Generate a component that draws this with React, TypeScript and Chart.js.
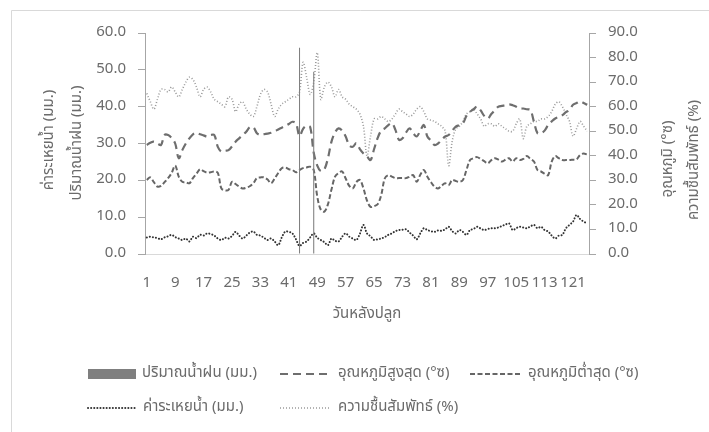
import React, { useEffect, useRef } from "react";
import { Chart, registerables } from "chart.js";

Chart.register(...registerables);

// Days after planting (1..125)
const days: string[] = Array.from({ length: 125 }, (_, i) => String(i + 1));

// Rainfall (mm)
const rainfall: number[] = [
  0, 0, 0, 0, 0, 0, 0, 0, 0, 0,
  0, 0, 0, 0, 0, 0, 0, 0, 0, 0,
  0, 0, 0, 0, 0, 0, 0, 0, 0, 0,
  0, 0, 0, 0, 0, 0, 0, 0, 0, 0,
  0, 0, 0, 56.0, 0, 0, 0, 49.5, 0, 0,
  0, 0, 0, 0, 0, 0, 0, 0, 0, 0,
  0, 0, 0, 0, 0, 0, 0, 0, 0, 0,
  0, 0, 0, 0, 0, 0, 0, 0, 0, 0,
  0, 0, 0, 0, 0, 0, 0, 0, 0, 0,
  0, 0, 0, 0, 0, 0, 0, 0, 0, 0,
  0, 0, 0, 0, 0, 0, 0, 0, 0, 0,
  0, 0, 0, 0, 0, 0, 0, 0, 0, 0,
  0, 0, 0, 0, 0,
];

// Maximum temperature (°C)
const maxTemp: number[] = [
  29.6, 30.2, 30.5, 30.0, 29.6, 32.3, 32.3, 31.5, 30.0, 26.0,
  28.2, 30.0, 31.4, 32.5, 32.9, 32.5, 32.2, 31.9, 32.3, 32.3,
  29.1, 27.8, 28.0, 28.2, 29.2, 30.5, 31.4, 32.3, 33.2, 34.4,
  34.4, 32.8, 32.3, 32.5, 32.7, 32.9, 33.3, 33.8, 34.3, 34.8,
  35.3, 35.9, 35.5, 32.0, 34.0, 34.8, 34.5, 27.5, 24.0, 22.5,
  23.0, 26.0, 30.5, 33.0, 34.1, 33.5, 31.9, 29.5, 29.1, 30.1,
  28.5, 27.3, 26.5, 25.5, 28.5, 31.5, 33.5, 34.1, 35.0, 35.5,
  33.7, 31.0, 31.4, 33.0, 34.1, 32.8, 31.9, 33.5, 35.0, 31.9,
  30.8, 29.6, 30.0, 31.0, 31.9, 32.3, 33.5, 34.6, 35.0, 35.5,
  37.5, 38.6, 39.3, 40.0, 39.0, 37.5, 36.8, 38.0, 39.0, 40.0,
  40.2, 40.4, 40.6, 40.4, 40.0, 39.5, 39.5, 39.3, 39.1, 35.9,
  32.8, 32.8, 33.5, 35.0, 36.0, 36.8, 37.2, 37.7, 38.5, 39.1,
  40.5, 41.0, 41.4, 41.0, 40.5,
];

// Minimum temperature (°C)
const minTemp: number[] = [
  20.1, 20.8, 19.5, 18.3, 18.5, 19.5, 20.6, 22.0, 24.0, 21.0,
  19.6, 19.5, 19.2, 20.6, 21.8, 23.0, 22.5, 22.1, 22.2, 22.4,
  22.0, 17.8, 17.3, 17.4, 19.6, 19.0, 18.3, 17.8, 18.0, 18.4,
  19.2, 20.6, 20.8, 20.8, 20.2, 19.2, 20.5, 22.0, 23.3, 23.5,
  23.0, 22.8, 22.2, 22.8, 23.3, 23.5, 23.7, 22.8, 15.6, 12.0,
  11.5, 13.5, 17.5, 21.0, 22.0, 22.4, 20.5, 18.5, 17.8, 19.5,
  20.1, 17.8, 14.5, 12.8, 13.0, 13.5, 16.0, 20.5, 21.4, 21.0,
  20.6, 20.6, 20.6, 20.6, 21.0, 21.4, 19.6, 21.5, 22.8, 21.0,
  19.5, 18.3, 17.8, 18.5, 19.2, 18.7, 20.1, 19.8, 19.6, 20.1,
  22.8, 25.5, 26.0, 26.3, 25.8, 25.2, 24.6, 25.5, 26.0, 25.6,
  25.1, 25.6, 26.0, 25.1, 26.0, 25.5, 25.8, 26.6, 25.8, 25.1,
  22.8, 22.4, 21.8, 21.4, 25.1, 26.6, 26.0, 25.5, 25.5, 25.5,
  25.6, 25.7, 26.9, 27.3, 27.0,
];

// Evaporation (mm)
const evaporation: number[] = [
  4.5, 4.7, 4.5, 4.3, 4.0, 4.5, 4.8, 5.2, 4.6, 4.2,
  3.8, 4.2, 3.4, 4.7, 4.3, 5.2, 5.0, 5.6, 5.4, 5.0,
  4.2, 3.8, 4.4, 4.2, 4.9, 6.0, 5.0, 4.2, 5.0, 5.8,
  6.1, 5.2, 5.0, 4.4, 3.8, 4.2, 3.4, 2.4, 4.5, 6.1,
  6.0, 5.6, 4.0, 2.2, 3.0, 3.4, 4.5, 5.6, 4.4, 3.8,
  3.2, 2.4, 4.2, 3.6, 3.4, 4.7, 5.6, 4.7, 4.2, 3.8,
  5.5, 7.9, 5.6, 4.8, 3.8, 4.0, 4.2, 4.6, 5.2, 5.6,
  6.2, 6.5, 6.6, 6.7, 5.8, 5.0, 4.0, 5.6, 7.0, 6.5,
  6.2, 6.0, 6.4, 6.3, 6.7, 7.4, 6.2, 5.6, 6.5, 6.0,
  5.2, 6.5, 6.8, 7.4, 6.9, 6.5, 6.8, 7.0, 7.0, 7.2,
  7.6, 8.0, 8.3, 6.5, 7.0, 7.4, 7.2, 7.0, 7.5, 7.9,
  7.0, 7.4, 6.5, 6.1, 5.0, 4.2, 5.0, 5.2, 7.0, 7.9,
  8.8, 10.6, 9.5, 8.8, 8.3,
];

// Relative humidity (%)
const humidity: number[] = [
  65.4, 62, 59, 63, 67, 67, 66, 68, 66, 64,
  67, 70, 72, 71, 68, 64, 67, 68, 66, 63,
  62, 61, 60, 64, 63, 58, 61, 62, 59, 57,
  56, 60, 65, 67, 66, 61, 56, 59, 61, 62,
  63, 64, 64, 66, 78, 72, 65, 70, 82, 63,
  68, 70, 68, 64, 67, 64, 63, 61, 60, 59,
  57, 52, 40, 48, 55, 55, 56, 55, 54, 55,
  57, 59, 58, 57, 56, 57, 59, 60, 58, 55,
  54.5, 54, 53, 52, 50, 36, 46, 51, 52, 54,
  57, 58, 59, 57, 55, 52, 53, 53, 52, 53,
  52, 51, 50, 50, 53, 55, 47, 52, 53, 54,
  54, 55, 55, 56, 58, 61, 62, 60, 57, 54,
  48, 51, 54, 52, 50,
];

const FONT = "'Noto Sans Thai', 'Leelawadee UI', Tahoma, 'Noto Sans', sans-serif";
const TEXT = "#6b6b6b";

const decorPlugin = {
  id: "decor",
  beforeDraw(chart: any) {
    const ctx = chart.ctx as CanvasRenderingContext2D;
    ctx.save();
    ctx.fillStyle = "#ffffff";
    ctx.fillRect(0, 0, chart.width, chart.height);
    ctx.strokeStyle = "#d9d9d9";
    ctx.lineWidth = 1;
    ctx.beginPath();
    ctx.moveTo(11.5, chart.height);
    ctx.lineTo(11.5, 10.5);
    ctx.lineTo(chart.width, 10.5);
    ctx.stroke();
    ctx.restore();
  },
  afterDraw(chart: any) {
    const ctx = chart.ctx as CanvasRenderingContext2D;
    const area = chart.chartArea;
    ctx.save();
    ctx.fillStyle = TEXT;
    ctx.font = `15px ${FONT}`;
    ctx.textBaseline = "middle";

    // x axis title
    ctx.textAlign = "center";
    ctx.fillText("วันหลังปลูก", (area.left + area.right) / 2, 315);

    // rotated axis titles
    const vtext = (txt: string, x: number, y: number) => {
      ctx.save();
      ctx.translate(x, y);
      ctx.rotate(-Math.PI / 2);
      ctx.textAlign = "center";
      ctx.fillText(txt, 0, 0);
      ctx.restore();
    };
    vtext("ค่าระเหยน้ำ (มม.)", 50, 140);
    vtext("ปริมาณน้ำฝน (มม.)", 78, 143);
    vtext("อุณหภูมิ (°ซ)", 669, 159);
    vtext("ความชื้นสัมพัทธ์ (%)", 695, 160);

    // legend
    ctx.textAlign = "left";
    const row1 = 374;
    const row2 = 408;
    ctx.fillStyle = "#7f7f7f";
    ctx.fillRect(88, row1 - 5, 48, 10);
    ctx.fillStyle = TEXT;
    ctx.fillText("ปริมาณน้ำฝน (มม.)", 142, row1);

    const sample = (x1: number, x2: number, y: number, color: string, width: number, dash: number[], cap: CanvasLineCap) => {
      ctx.save();
      ctx.strokeStyle = color;
      ctx.lineWidth = width;
      ctx.setLineDash(dash);
      ctx.lineCap = cap;
      ctx.beginPath();
      ctx.moveTo(x1, y);
      ctx.lineTo(x2, y);
      ctx.stroke();
      ctx.restore();
    };
    sample(280, 328, row1, "#6e6e6e", 2.2, [8, 5], "butt");
    ctx.fillText("อุณหภูมิสูงสุด (°ซ)", 338, row1);
    sample(470, 520, row1, "#666666", 2, [5, 2.5], "butt");
    ctx.fillText("อุณหภูมิต่ำสุด (°ซ)", 528, row1);

    sample(88, 136, row2, "#333333", 2, [0.1, 3], "round");
    ctx.fillText("ค่าระเหยน้ำ (มม.)", 143, row2);
    sample(280, 330, row2, "#9a9a9a", 1.6, [1, 2], "butt");
    ctx.fillText("ความชื้นสัมพัทธ์ (%)", 338, row2);
    ctx.restore();
  },
};

export default function App() {
  const canvasRef = useRef<HTMLCanvasElement | null>(null);

  useEffect(() => {
    const canvas = canvasRef.current;
    if (!canvas) return;
    const tickFont = { family: FONT, size: 15 };
    const chart = new Chart(canvas, {
      type: "bar",
      data: {
        labels: days,
        datasets: [
          {
            type: "bar",
            label: "ปริมาณน้ำฝน (มม.)",
            data: rainfall,
            yAxisID: "y",
            backgroundColor: "#808080",
            barPercentage: 0.3,
            categoryPercentage: 1,
            order: 0,
          },
          {
            type: "line",
            label: "อุณหภูมิสูงสุด (°ซ)",
            data: maxTemp,
            yAxisID: "y",
            borderColor: "#6e6e6e",
            borderWidth: 2.2,
            borderDash: [8, 5],
            pointRadius: 0,
            tension: 0.35,
            order: 1,
          },
          {
            type: "line",
            label: "อุณหภูมิต่ำสุด (°ซ)",
            data: minTemp,
            yAxisID: "y",
            borderColor: "#666666",
            borderWidth: 2,
            borderDash: [5, 2.5],
            pointRadius: 0,
            tension: 0.35,
            order: 2,
          },
          {
            type: "line",
            label: "ค่าระเหยน้ำ (มม.)",
            data: evaporation,
            yAxisID: "y",
            borderColor: "#333333",
            borderWidth: 2,
            borderDash: [0.1, 3],
            borderCapStyle: "round",
            pointRadius: 0,
            tension: 0.35,
            order: 3,
          },
          {
            type: "line",
            label: "ความชื้นสัมพัทธ์ (%)",
            data: humidity,
            yAxisID: "y1",
            borderColor: "#9a9a9a",
            borderWidth: 1.6,
            borderDash: [1, 2],
            pointRadius: 0,
            tension: 0.35,
            order: 4,
          },
        ] as any,
      },
      options: {
        animation: false,
        responsive: false,
        devicePixelRatio: 1,
        layout: { padding: { top: 33, left: 0, right: 0, bottom: 0 } },
        plugins: {
          legend: { display: false },
          tooltip: { enabled: false },
        },
        scales: {
          x: {
            type: "category",
            offset: true,
            grid: { display: false, drawTicks: false },
            border: { display: true, color: "#d9d9d9", width: 1 },
            ticks: {
              autoSkip: false,
              maxRotation: 0,
              minRotation: 0,
              padding: 21,
              color: TEXT,
              font: tickFont,
              callback: (_v: any, i: number) => (i % 8 === 0 ? days[i] : ""),
            },
            afterFit: (s: any) => {
              s.height = 178;
            },
          },
          y: {
            position: "left",
            min: 0,
            max: 60,
            grid: { drawOnChartArea: false, drawTicks: true, tickLength: 7, color: "#a6a6a6" },
            border: { display: true, color: "#a6a6a6", width: 1 },
            ticks: {
              stepSize: 10,
              padding: 12,
              color: TEXT,
              font: tickFont,
              callback: (v: any) => Number(v).toFixed(1),
            },
            afterFit: (s: any) => {
              s.width = 145;
            },
          },
          y1: {
            position: "right",
            min: 0,
            max: 90,
            grid: { drawOnChartArea: false, drawTicks: true, tickLength: 7, color: "#a6a6a6" },
            border: { display: true, color: "#a6a6a6", width: 1 },
            ticks: {
              stepSize: 10,
              padding: 12,
              color: TEXT,
              font: tickFont,
              callback: (v: any) => Number(v).toFixed(1),
            },
            afterFit: (s: any) => {
              s.width = 120;
            },
          },
        },
      } as any,
      plugins: [decorPlugin],
    });
    return () => chart.destroy();
  }, []);

  return (
    <div style={{ position: "fixed", left: 0, top: 0, width: 709, height: 432, overflow: "hidden", background: "#fff" }}>
      <canvas ref={canvasRef} width={709} height={432} style={{ display: "block" }} />
    </div>
  );
}
